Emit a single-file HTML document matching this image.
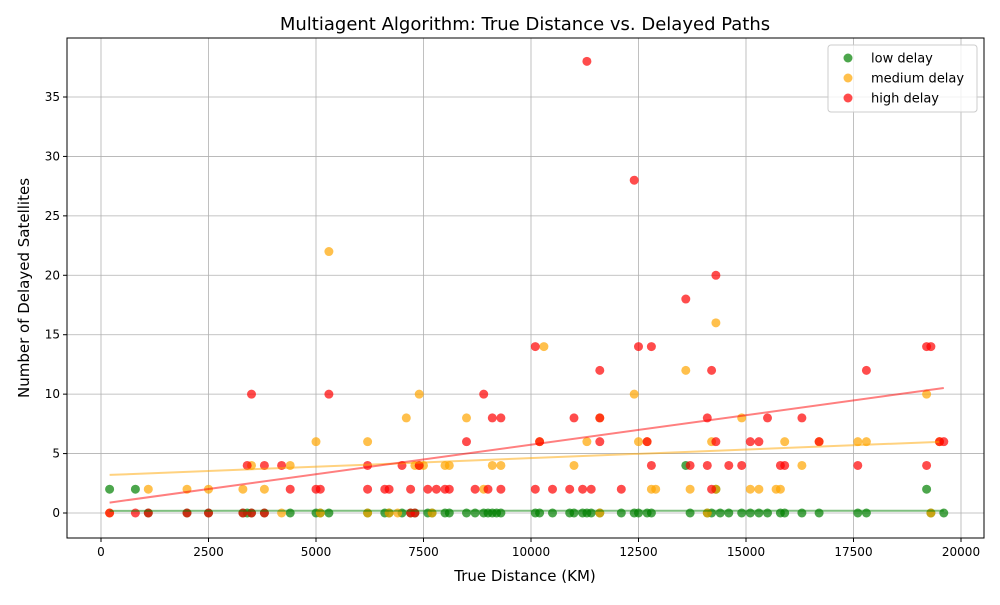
<!DOCTYPE html>
<html><head><meta charset="utf-8"><style>
body{margin:0;background:#fff;font-family:"Liberation Sans","DejaVu Sans",sans-serif}
svg text{font-family:"DejaVu Sans","Liberation Sans",sans-serif}
</style></head><body>
<svg id="c" width="1000" height="600" xmlns="http://www.w3.org/2000/svg"></svg>
<script>
const lowX=[200,800,1100,2000,2500,3300,3400,3500,3800,4400,5000,5100,5300,6200,6600,6700,7000,7200,7300,7600,7700,8000,8100,8500,8700,8900,9000,9100,9200,9300,10100,10200,10500,10900,11000,11200,11300,11400,11600,12100,12400,12500,12700,12800,13600,13700,14100,14200,14300,14400,14600,14900,15100,15300,15500,15800,15900,16300,16700,17600,17800,19200,19300,19600];
const lowY=[2,2,0,0,0,0,0,0,0,0,0,0,0,0,0,0,0,0,0,0,0,0,0,0,0,0,0,0,0,0,0,0,0,0,0,0,0,0,0,0,0,0,0,0,4,0,0,0,2,0,0,0,0,0,0,0,0,0,0,0,0,2,0,0];
const medX=[200,1100,2000,2500,3300,3500,3800,4200,4400,5000,5100,5300,6200,6200,6700,6900,7100,7300,7400,7400,7500,7700,8000,8100,8500,8900,9100,9300,10200,10300,11000,11300,11600,11600,12400,12500,12700,12800,12900,13600,13700,14100,14200,14300,14300,14900,15100,15300,15700,15800,15900,16300,16700,17600,17800,19200,19300,19500];
const medY=[0,2,2,2,2,4,2,0,4,6,0,22,6,0,0,0,8,4,10,4,4,0,4,4,8,2,4,4,6,14,4,6,8,0,10,6,6,2,2,12,2,0,6,2,16,8,2,2,2,2,6,4,6,6,6,10,0,6];
const highX=[200,800,1100,2000,2500,3300,3400,3500,3500,3800,3800,4200,4400,5000,5100,5300,6200,6200,6600,6700,7000,7200,7200,7300,7400,7600,7800,8000,8100,8500,8700,8900,9000,9100,9300,9300,10100,10200,10100,10500,10900,11000,11200,11300,11400,11600,11600,11600,12100,12400,12500,12700,12800,12800,13600,13700,14100,14100,14200,14200,14300,14300,14600,14900,15100,15300,15500,15800,15900,16300,16700,17600,17800,19200,19300,19200,19500,19600];
const highY=[0,0,0,0,0,0,4,10,0,4,0,4,2,2,2,10,4,2,2,2,4,2,0,0,4,2,2,2,2,6,2,10,2,8,8,2,14,6,2,2,2,8,2,38,2,12,6,8,2,28,14,6,14,4,18,4,8,4,12,2,20,6,4,4,6,6,8,4,4,8,6,4,12,14,14,4,6,6];
const xTicks=[0,2500,5000,7500,10000,12500,15000,17500,20000];
const yTicks=[0,5,10,15,20,25,30,35];
const L=67,R=984,T=38,B=538;
const sx=v=>101+v*(860/20000);
const sy=v=>513-v*(416/35);
const svg=document.getElementById('c');const NS='http://www.w3.org/2000/svg';
function mk(t,a,p){const e=document.createElementNS(NS,t);for(const k in a)e.setAttribute(k,a[k]);(p||svg).appendChild(e);return e;}
// grid & ticks
xTicks.forEach(v=>{const x=sx(v);
 const g=mk('line',{x1:x,x2:x,y1:T,y2:B,stroke:'#b0b0b0','stroke-width':0.8});
 
 mk('line',{x1:x,x2:x,y1:B,y2:B+4,stroke:'#000'});
 const t=mk('text',{x:x,y:B+18,'text-anchor':'middle','font-size':12});t.textContent=v;
 });
yTicks.forEach(v=>{const y=sy(v);
 const g=mk('line',{x1:L,x2:R,y1:y,y2:y,stroke:'#b0b0b0','stroke-width':0.8});
 
 mk('line',{x1:L-4,x2:L,y1:y,y2:y,stroke:'#000'});
 const t=mk('text',{x:L-7,y:y+4,'text-anchor':'end','font-size':12});t.textContent=v;
 });
const series=[[lowX,lowY,'green','low delay','#2ca02c'],[medX,medY,'orange','medium delay','#ffa500'],[highX,highY,'red','high delay','#ff0000']];
series.forEach(([xs,ys,c,n])=>{
 xs.forEach((x,i)=>{const p=mk('circle',{cx:sx(x),cy:sy(ys[i]),r:4.5,fill:c,'fill-opacity':0.7});
  });
});
series.forEach(([xs,ys,c,n])=>{
 const m=xs.length,mx=xs.reduce((a,b)=>a+b)/m,my=ys.reduce((a,b)=>a+b)/m;
 let num=0,den=0;xs.forEach((x,i)=>{num+=(x-mx)*(ys[i]-my);den+=(x-mx)**2;});
 const k=num/den,b0=my-k*mx;const x0=Math.min(...xs),x1=Math.max(...xs);
 const l=mk('line',{x1:sx(x0),y1:sy(b0+k*x0),x2:sx(x1),y2:sy(b0+k*x1),stroke:c,'stroke-opacity':0.5,'stroke-width':2});
 
});
const fr=mk('rect',{x:L,y:T,width:R-L,height:B-T,fill:'none',stroke:'#000','stroke-width':1});

let t=mk('text',{x:525,y:30,'text-anchor':'middle','font-size':18});t.textContent='Multiagent Algorithm: True Distance vs. Delayed Paths';

t=mk('text',{x:525,y:581,'text-anchor':'middle','font-size':15});t.textContent='True Distance (KM)';

t=mk('text',{x:29,y:288,'text-anchor':'middle','font-size':15,transform:'rotate(-90 29 288)'});t.textContent='Number of Delayed Satellites';

const lg=mk('g',{});
mk('rect',{x:828,y:45,width:149,height:67,rx:3,fill:'#fff','fill-opacity':0.8,stroke:'#ccc'},lg);
series.forEach(([xs,ys,c,n],i)=>{const y=58+i*20;
 const e=mk('g',{},lg);
 mk('circle',{cx:848,cy:y,r:4.5,fill:c,'fill-opacity':0.7},e);
 const tt=mk('text',{x:871,y:y+4.5,'font-size':13},e);tt.textContent=n;});
</script>
</body></html>
